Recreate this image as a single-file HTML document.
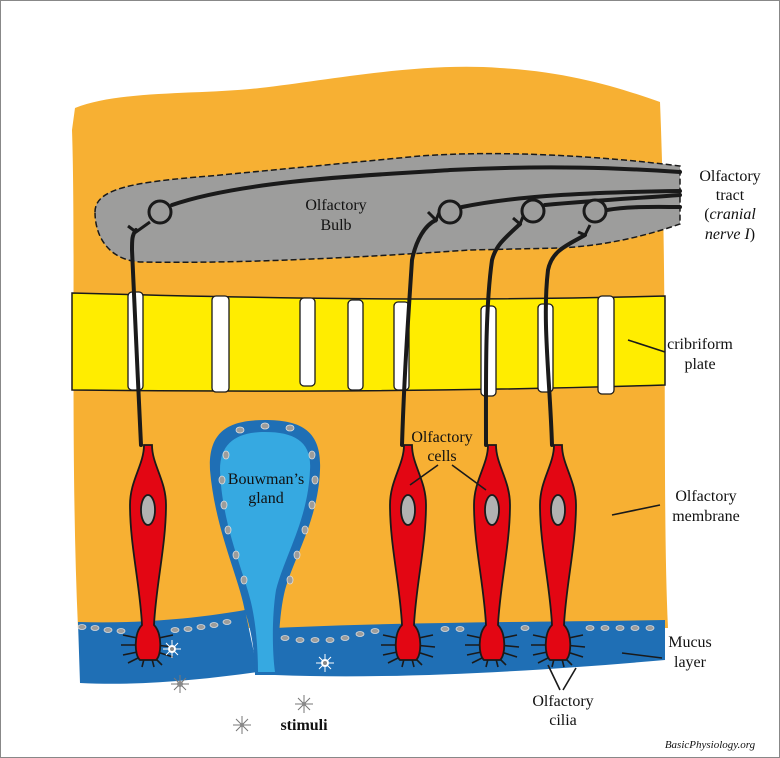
<!DOCTYPE html>
<html><head><meta charset="utf-8"><style>
html,body{margin:0;padding:0;background:#fff}
svg{display:block}
text{font-family:"Liberation Serif",serif;font-size:16px;fill:#111}
</style></head><body>
<svg width="780" height="758" viewBox="0 0 780 758" xmlns="http://www.w3.org/2000/svg">
<rect x="0.5" y="0.5" width="779" height="757" fill="#fff" stroke="#888"/>
<path d="M75,108 C120,90 200,95 260,88 C330,80 420,62 500,68 C570,72 620,88 660,102 C668,300 662,500 668,628 L78,628 C70,450 76,250 72,130 Z" fill="#f7b033"/>
<path d="M72,293 C250,298 450,302 665,296 L665,385 C450,392 250,392 72,390 Z" fill="#ffed00" stroke="#1a1a1a" stroke-width="1.5"/>
<g fill="#fff" stroke="#1a1a1a" stroke-width="1.3">
<rect x="128" y="292" width="15" height="98" rx="4"/>
<rect x="212" y="296" width="17" height="96" rx="4"/>
<rect x="300" y="298" width="15" height="88" rx="4"/>
<rect x="348" y="300" width="15" height="90" rx="4"/>
<rect x="394" y="302" width="15" height="88" rx="4"/>
<rect x="481" y="306" width="15" height="90" rx="4"/>
<rect x="538" y="304" width="15" height="88" rx="4"/>
<rect x="598" y="296" width="16" height="98" rx="4"/>
</g>
<path d="M95,212 C95,188 135,182 210,176 L420,156 C500,150 600,156 680,166 L680,224 C640,238 600,246 560,248 L470,250 C380,256 250,264 140,262 C110,260 95,238 95,212 Z" fill="#9d9d9c" stroke="#1a1a1a" stroke-width="1.5" stroke-dasharray="6,3"/>
<path d="M78,622 C140,624 200,618 245,610 L258,672 C200,680 140,686 80,683 Z" fill="#1f6fb5"/>
<path d="M275,628 C400,622 550,622 665,620 L665,660 C550,670 400,680 275,675 Z" fill="#1f6fb5"/>
<path d="M245,612 C240,580 215,530 210,470 C208,430 230,420 265,420 C300,420 322,430 320,470 C318,520 295,555 285,590 C280,610 278,640 278,675 L255,675 C255,650 250,625 245,612 Z" fill="#1f6fb5"/>
<path d="M253,612 C248,580 222,530 220,470 C220,442 238,432 265,432 C295,432 312,442 310,470 C308,520 285,555 276,590 C272,615 272,650 275,672 L258,672 C258,650 256,628 253,612 Z" fill="#36a9e1"/>
<g fill="#9d9d9c" stroke="#ddd" stroke-width="0.8">
<ellipse cx="226" cy="455" rx="3" ry="4"/><ellipse cx="222" cy="480" rx="3" ry="4"/><ellipse cx="224" cy="505" rx="3" ry="4"/><ellipse cx="228" cy="530" rx="3" ry="4"/><ellipse cx="236" cy="555" rx="3" ry="4"/><ellipse cx="244" cy="580" rx="3" ry="4"/>
<ellipse cx="240" cy="430" rx="4" ry="3"/><ellipse cx="265" cy="426" rx="4" ry="3"/><ellipse cx="290" cy="428" rx="4" ry="3"/>
<ellipse cx="312" cy="455" rx="3" ry="4"/><ellipse cx="315" cy="480" rx="3" ry="4"/><ellipse cx="312" cy="505" rx="3" ry="4"/><ellipse cx="305" cy="530" rx="3" ry="4"/><ellipse cx="297" cy="555" rx="3" ry="4"/><ellipse cx="290" cy="580" rx="3" ry="4"/>
</g>
<g fill="#9d9d9c" stroke="#ddd" stroke-width="0.8">
<ellipse cx="82" cy="627" rx="4" ry="2.5"/><ellipse cx="95" cy="628" rx="4" ry="2.5"/><ellipse cx="108" cy="630" rx="4" ry="2.5"/><ellipse cx="121" cy="631" rx="4" ry="2.5"/><ellipse cx="175" cy="630" rx="4" ry="2.5"/><ellipse cx="188" cy="629" rx="4" ry="2.5"/><ellipse cx="201" cy="627" rx="4" ry="2.5"/><ellipse cx="214" cy="625" rx="4" ry="2.5"/><ellipse cx="227" cy="622" rx="4" ry="2.5"/>
<ellipse cx="285" cy="638" rx="4" ry="2.5"/><ellipse cx="300" cy="640" rx="4" ry="2.5"/><ellipse cx="315" cy="640" rx="4" ry="2.5"/><ellipse cx="330" cy="640" rx="4" ry="2.5"/><ellipse cx="345" cy="638" rx="4" ry="2.5"/><ellipse cx="360" cy="634" rx="4" ry="2.5"/><ellipse cx="375" cy="631" rx="4" ry="2.5"/><ellipse cx="445" cy="629" rx="4" ry="2.5"/><ellipse cx="460" cy="629" rx="4" ry="2.5"/><ellipse cx="525" cy="628" rx="4" ry="2.5"/><ellipse cx="590" cy="628" rx="4" ry="2.5"/><ellipse cx="605" cy="628" rx="4" ry="2.5"/><ellipse cx="620" cy="628" rx="4" ry="2.5"/><ellipse cx="635" cy="628" rx="4" ry="2.5"/><ellipse cx="650" cy="628" rx="4" ry="2.5"/>
</g>
<g fill="none" stroke="#1a1a1a" stroke-width="4" stroke-linecap="round">
<path d="M141,445 C138,380 134,300 132,250 C132,240 132,235 136,230"/>
<path d="M402,445 C404,380 408,320 412,260 C416,240 425,225 436,220"/>
<path d="M486,445 C486,380 485,310 492,260 C496,245 505,238 520,224"/>
<path d="M552,445 C550,380 542,320 548,270 C552,250 568,245 585,235"/>
<path d="M172,205 C250,178 400,174 450,170 C550,165 620,168 680,172"/>
<path d="M462,207 C520,195 600,192 680,191"/>
<path d="M545,205 C600,200 640,198 680,195"/>
<path d="M607,210 C630,206 660,207 680,207"/>
</g>
<g fill="none" stroke="#1a1a1a" stroke-width="3">
<path d="M128,226 L136,232 L150,222"/>
<path d="M428,212 L436,220 L440,210"/>
<path d="M513,218 L520,224 L524,214"/>
<path d="M578,232 L585,235 L590,225"/>
</g>
<g fill="#9d9d9c" stroke="#1a1a1a" stroke-width="3">
<circle cx="160" cy="212" r="11"/><circle cx="450" cy="212" r="11"/><circle cx="533" cy="211" r="11"/><circle cx="595" cy="211" r="11"/>
</g>
<defs>
<g id="cell">
<g stroke="#1a1a1a" stroke-width="1.6">
<line x1="-6" y1="14" x2="-25" y2="10"/><line x1="-6" y1="20" x2="-27" y2="20"/><line x1="-6" y1="26" x2="-25" y2="30"/><line x1="-8" y1="32" x2="-20" y2="38"/>
<line x1="6" y1="14" x2="25" y2="10"/><line x1="6" y1="20" x2="27" y2="22"/><line x1="6" y1="26" x2="25" y2="32"/><line x1="6" y1="32" x2="14" y2="40"/>
<line x1="-4" y1="34" x2="-6" y2="42"/><line x1="4" y1="34" x2="6" y2="42"/>
</g>
<path d="M-4,-180 C-4,-160 -18,-145 -18,-120 C-18,-80 -8,-40 -6,0 C-14,8 -14,30 -8,35 L8,35 C14,30 14,8 6,0 C8,-40 18,-80 18,-120 C18,-145 4,-160 4,-180 Z" fill="#e30613" stroke="#1a1a1a" stroke-width="1.8"/>
<ellipse cx="0" cy="-115" rx="7" ry="15" fill="#b2b2b2" stroke="#1a1a1a" stroke-width="1.8"/>
</g>
</defs>
<use href="#cell" x="148" y="625"/>
<use href="#cell" x="408" y="625"/>
<use href="#cell" x="492" y="625"/>
<use href="#cell" x="558" y="625"/>
<g stroke="#fff" stroke-width="1"><path d="M172,640 l0,18 M163,649 l18,0 M166,643 l12,12 M178,643 l-12,12 M325,654 l0,18 M316,663 l18,0 M319,657 l12,12 M331,657 l-12,12"/></g>
<circle cx="172" cy="649" r="4" fill="#fff"/><circle cx="172" cy="649" r="2" fill="#888"/>
<circle cx="325" cy="663" r="4" fill="#fff"/><circle cx="325" cy="663" r="2" fill="#888"/>
<g stroke="#777" stroke-width="1"><path d="M180,675 l0,18 M171,684 l18,0 M174,678 l12,12 M186,678 l-12,12 M242,716 l0,18 M233,725 l18,0 M236,719 l12,12 M248,719 l-12,12 M304,695 l0,18 M295,704 l18,0 M298,698 l12,12 M310,698 l-12,12"/></g>
<circle cx="180" cy="684" r="3" fill="#888"/><circle cx="242" cy="725" r="2" fill="#888"/><circle cx="304" cy="704" r="2" fill="#888"/>
<g stroke="#1a1a1a" stroke-width="1.6">
<line x1="628" y1="340" x2="665" y2="352"/>
<line x1="612" y1="515" x2="660" y2="505"/>
<line x1="622" y1="653" x2="662" y2="658"/>
<line x1="438" y1="465" x2="410" y2="485"/>
<line x1="452" y1="465" x2="486" y2="490"/>
<line x1="548" y1="665" x2="560" y2="690"/><line x1="576" y1="668" x2="563" y2="690"/>
</g>
<text x="336" y="210" text-anchor="middle">Olfactory</text>
<text x="336" y="230" text-anchor="middle">Bulb</text>
<text x="730" y="181" text-anchor="middle">Olfactory</text>
<text x="730" y="200" text-anchor="middle">tract</text>
<text x="730" y="219" text-anchor="middle">(<tspan font-style="italic">cranial</tspan></text>
<text x="730" y="239" text-anchor="middle"><tspan font-style="italic">nerve I</tspan>)</text>
<text x="700" y="349" text-anchor="middle">cribriform</text>
<text x="700" y="369" text-anchor="middle">plate</text>
<text x="442" y="442" text-anchor="middle">Olfactory</text>
<text x="442" y="461" text-anchor="middle">cells</text>
<text x="706" y="501" text-anchor="middle">Olfactory</text>
<text x="706" y="521" text-anchor="middle">membrane</text>
<text x="266" y="484" text-anchor="middle">Bouwman’s</text>
<text x="266" y="503" text-anchor="middle">gland</text>
<text x="690" y="647" text-anchor="middle">Mucus</text>
<text x="690" y="667" text-anchor="middle">layer</text>
<text x="563" y="706" text-anchor="middle">Olfactory</text>
<text x="563" y="725" text-anchor="middle">cilia</text>
<text x="304" y="730" text-anchor="middle" font-weight="bold">stimuli</text>
<text x="710" y="748" text-anchor="middle" font-style="italic" style="font-size:11px">BasicPhysiology.org</text>
</svg>
</body></html>
